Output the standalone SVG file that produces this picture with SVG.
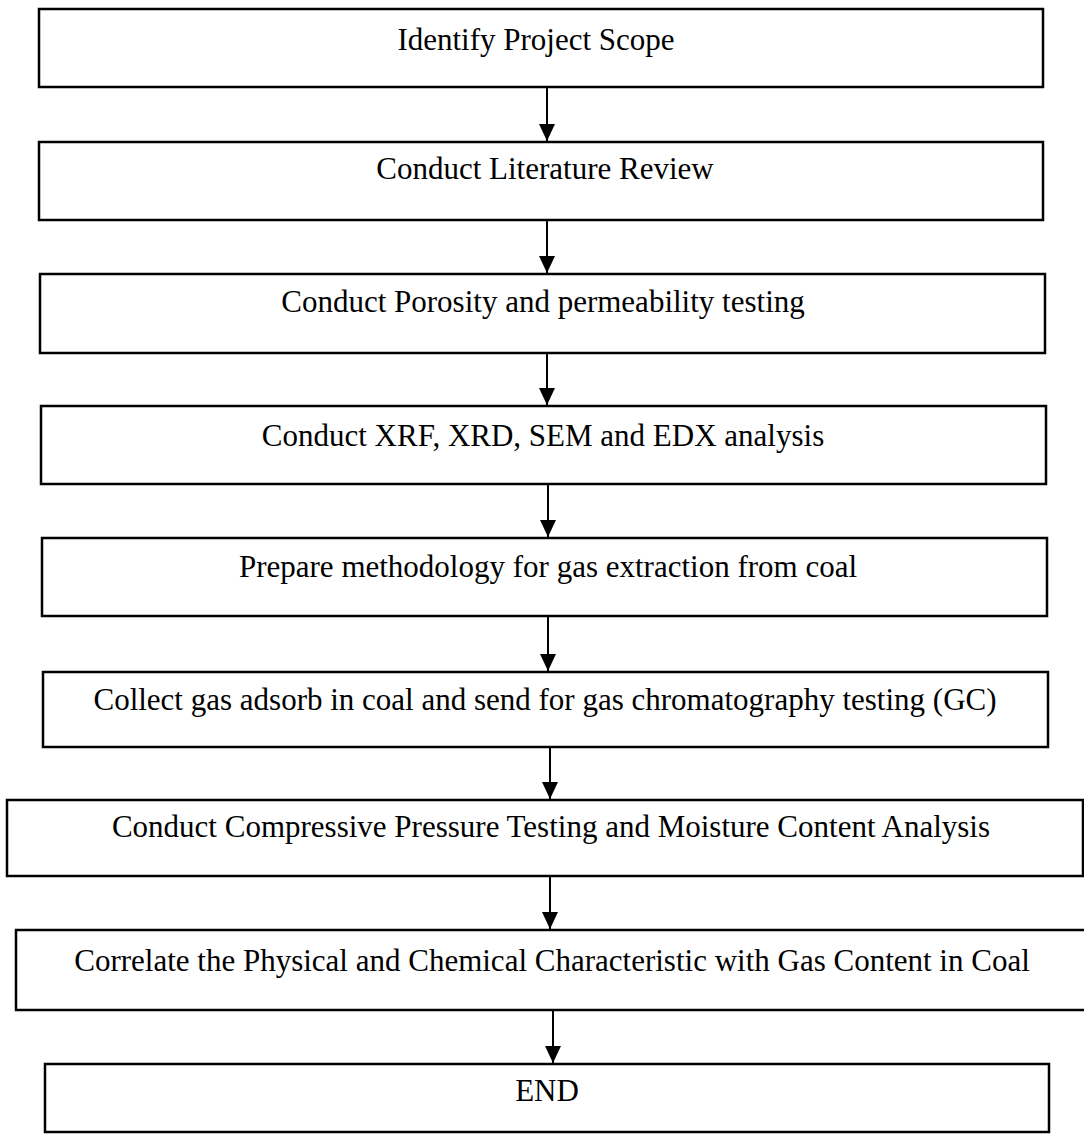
<svg xmlns="http://www.w3.org/2000/svg" width="1084" height="1138" viewBox="0 0 1084 1138">
<style>
.box{fill:#fff;stroke:#000;stroke-width:2.5}
.lbl{font-family:"Liberation Serif","Times New Roman",serif;font-size:31px;fill:#000;text-anchor:middle}
.edge{stroke:#000;stroke-width:2;fill:none}
</style>
<defs>
<marker id="ah" viewBox="0 0 17 16" refX="17" refY="8" markerWidth="17" markerHeight="16" markerUnits="userSpaceOnUse" orient="auto">
<path d="M0,0 L17,8 L0,16 Z" fill="#000"/>
</marker>
</defs>
<rect width="1084" height="1138" fill="#fff"/>
<g id="n1"><rect class="box" x="39" y="9" width="1004" height="78"/><text class="lbl" x="536" y="50">Identify Project Scope</text></g>
<g id="n2"><rect class="box" x="39" y="142" width="1004" height="78"/><text class="lbl" x="545" y="179">Conduct Literature Review</text></g>
<g id="n3"><rect class="box" x="40" y="274" width="1005" height="79"/><text class="lbl" x="543" y="312">Conduct Porosity and permeability testing</text></g>
<g id="n4"><rect class="box" x="41" y="406" width="1005" height="78"/><text class="lbl" x="543" y="446">Conduct XRF, XRD, SEM and EDX analysis</text></g>
<g id="n5"><rect class="box" x="42" y="538" width="1005" height="78"/><text class="lbl" x="548" y="577">Prepare methodology for gas extraction from coal</text></g>
<g id="n6"><rect class="box" x="43" y="672" width="1005" height="75"/><text class="lbl" x="545" y="710">Collect gas adsorb in coal and send for gas chromatography testing (GC)</text></g>
<g id="n7"><rect class="box" x="7" y="800" width="1076" height="76"/><text class="lbl" x="551" y="837">Conduct Compressive Pressure Testing and Moisture Content Analysis</text></g>
<g id="n8"><rect class="box" x="16" y="930" width="1080" height="80"/><text class="lbl" x="552" y="971">Correlate the Physical and Chemical Characteristic with Gas Content in Coal</text></g>
<g id="n9"><rect class="box" x="45" y="1064" width="1004" height="68"/><text class="lbl" x="547" y="1101">END</text></g>
<g id="edges">
<line class="edge" x1="547" y1="87" x2="547" y2="141" marker-end="url(#ah)"/>
<line class="edge" x1="547" y1="220" x2="547" y2="273" marker-end="url(#ah)"/>
<line class="edge" x1="547" y1="353" x2="547" y2="405" marker-end="url(#ah)"/>
<line class="edge" x1="548" y1="484" x2="548" y2="537" marker-end="url(#ah)"/>
<line class="edge" x1="548" y1="616" x2="548" y2="671" marker-end="url(#ah)"/>
<line class="edge" x1="550" y1="747" x2="550" y2="799" marker-end="url(#ah)"/>
<line class="edge" x1="550" y1="876" x2="550" y2="929" marker-end="url(#ah)"/>
<line class="edge" x1="553" y1="1010" x2="553" y2="1063" marker-end="url(#ah)"/>
</g>
</svg>
